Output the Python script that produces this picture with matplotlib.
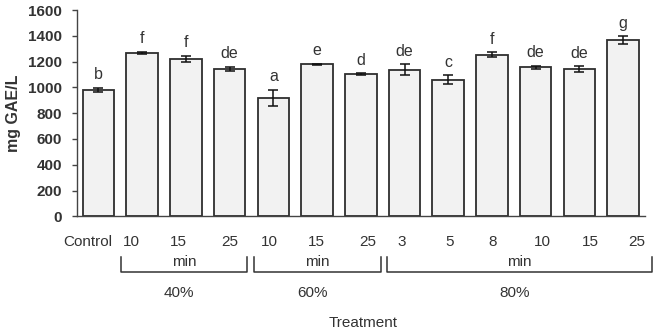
import matplotlib
matplotlib.use("Agg")
import matplotlib.pyplot as plt
from matplotlib.lines import Line2D

# valores
treatments = ["Control", "40% 10", "40% 15", "40% 25", "60% 10", "60% 15", "60% 25",
              "80% 3", "80% 5", "80% 8", "80% 10", "80% 15", "80% 25"]
values = [980, 1270, 1222, 1144, 921, 1180, 1106, 1137, 1060, 1253, 1155, 1145, 1368]
errors = [18, 8, 25, 18, 62, 5, 6, 42, 36, 20, 14, 22, 30]
letters = ["b", "f", "f", "de", "a", "e", "d", "de", "c", "f", "de", "de", "g"]

tick_texts = ["Control", "10", "15", "25", "10", "15", "25", "3", "5", "8", "10", "15", "25"]
group_names = ["40%", "60%", "80%"]

W, H = 657, 332
plt.rcParams['font.family'] = ['Liberation Sans', 'DejaVu Sans']
txt_color = '#333333'

fig = plt.figure(figsize=(W / 100, H / 100), dpi=100)
ax = fig.add_axes([77 / W, 1 - 216.4 / H, (645 - 77) / W, (216.4 - 10) / H])


def fx(x):
    return x / W


def fy(y):
    return 1 - y / H


pos = list(range(len(values)))
ax.bar(pos, values, width=0.72, color='#f2f2f2', edgecolor='#2e2e2e', linewidth=1.3, zorder=2)
ax.errorbar(pos, values, yerr=errors, fmt='none', ecolor='#111111', elinewidth=1.1,
            capsize=3.5, capthick=1.1, zorder=3)

for i in pos:
    ax.text(i, values[i] + errors[i] + 40, letters[i], ha='center', va='bottom',
            fontsize=11.5, color=txt_color)

ax.set_xlim(-0.49, 12.5)
ax.set_ylim(0, 1600)
ax.set_yticks(range(0, 1601, 200))
ax.set_xticks([])
ax.tick_params(axis='y', direction='out', length=3.6, width=1, pad=7, colors='#444444',
               labelsize=11, labelcolor=txt_color)
for lab in ax.get_yticklabels():
    lab.set_fontweight('bold')
ax.spines['top'].set_visible(False)
ax.spines['right'].set_visible(False)
ax.spines['left'].set_color('#444444')
ax.spines['bottom'].set_color('#444444')
ax.spines['left'].set_linewidth(1)
ax.spines['bottom'].set_linewidth(1)
ax.set_ylabel("mg GAE/L", fontsize=11.5, fontweight='bold', color=txt_color, labelpad=5)

# rotulos do eixo x (posicoes em pixels da figura)
tick_x = [88, 131, 178, 230, 269, 316, 368, 402, 450, 493, 542, 590, 637]
for x, t in zip(tick_x, tick_texts):
    fig.text(fx(x), fy(242), t, ha='center', va='center', fontsize=11, color=txt_color)

# colchetes dos grupos
brackets = [(121, 247), (254, 381), (387, 652)]
for (x0, x1), name in zip(brackets, group_names):
    xs = [fx(x0), fx(x0), fx(x1), fx(x1)]
    ys = [fy(257), fy(272), fy(272), fy(257)]
    fig.add_artist(Line2D(xs, ys, color='#333333', lw=1.1, transform=fig.transFigure))
    xm = (x0 + x1) / 2
    fig.text(fx(xm), fy(262), "min", ha='center', va='center', fontsize=11, color=txt_color)
    fig.text(fx(xm - 5), fy(293), name, ha='center', va='center', fontsize=11, color=txt_color)

fig.text(fx(363), fy(323), "Treatment", ha='center', va='center', fontsize=11, color=txt_color)

fig.savefig("out.png", dpi=100, facecolor='white')
